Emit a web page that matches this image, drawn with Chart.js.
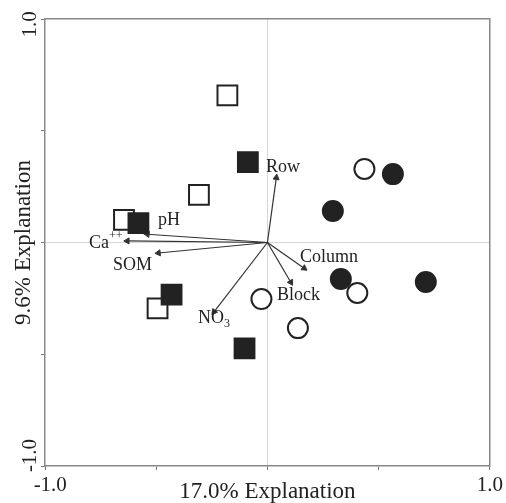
<!DOCTYPE html>
<html lang="en">
<head>
<meta charset="UTF-8">
<title>Ordination biplot</title>
<script src="https://cdn.jsdelivr.net/npm/chart.js"></script>
<style>
    html, body { margin: 0; padding: 0; background: #fff; }
    .chart-container { width: 506px; height: 503px; }
</style>
</head>
<body>
<div class="chart-container"><canvas id="biplot"></canvas></div>
<script>
// sample scores: axis 1 (x) and axis 2 (y)
const openSquareX = [-0.180, -0.308, -0.645, -0.494];
const openSquareY = [0.658, 0.213, 0.101, -0.295];
const filledSquareX = [-0.088, -0.580, -0.431, -0.103];
const filledSquareY = [0.360, 0.087, -0.233, -0.474];
const openCircleX = [0.436, -0.027, 0.404, 0.137];
const openCircleY = [0.329, -0.253, -0.226, -0.383];
const filledCircleX = [0.564, 0.294, 0.330, 0.712];
const filledCircleY = [0.306, 0.141, -0.163, -0.177];

// environmental vectors
const vectorNames = ['Row', 'pH', 'Ca', 'SOM', 'NO', 'Block', 'Column'];
const vectorSup = ['', '', '++', '', '', '', ''];
const vectorSub = ['', '', '', '', '3', '', ''];
const vectorX = [0.040, -0.540, -0.630, -0.490, -0.240, 0.105, 0.165];
const vectorY = [0.290, 0.037, 0.007, -0.047, -0.310, -0.178, -0.115];
// where each vector name sits (data units)
const labelX = [-0.007, -0.492, -0.802, -0.694, -0.312, 0.043, 0.146];
const labelY = [0.338, 0.100, -0.002, -0.100, -0.338, -0.235, -0.065];

// only the ends are labelled; spaces nudge them like the original
const xTickLabels = ['  -1.0', '', '', '', '1.0'];
const yTickLabels = ['    -1.0', '', '', '', '1.0  '];
const xTitle = '17.0% Explanation';
const yTitle = '9.6% Explanation';

const ink = '#222';
Chart.defaults.font.family = '"Liberation Serif", "DejaVu Serif", serif';

function pts(xs, ys) {
    return xs.map((x, i) => ({ x: x, y: ys[i] }));
}

const markerSets = [
    { data: pts(filledSquareX, filledSquareY), pointStyle: 'rect', pointRadius: 14, pointBackgroundColor: ink },
    { data: pts(openSquareX, openSquareY), pointStyle: 'rect', pointRadius: 14, pointBackgroundColor: '#fff' },
    { data: pts(openCircleX, openCircleY), pointStyle: 'circle', pointRadius: 10, pointBackgroundColor: '#fff' },
    { data: pts(filledCircleX, filledCircleY), pointStyle: 'circle', pointRadius: 10, pointBackgroundColor: ink }
].map(d => Object.assign(d, { pointBorderColor: ink, pointBorderWidth: 2, showLine: false }));

const vectorSets = vectorNames.map((name, i) => ({
    label: name,
    data: [{ x: 0, y: 0 }, { x: vectorX[i], y: vectorY[i] }],
    showLine: true,
    borderColor: '#333',
    borderWidth: 1.2,
    pointStyle: 'triangle',
    pointRadius: [0, 3.5],
    pointRotation: [0, Math.atan2(vectorX[i], vectorY[i]) * 180 / Math.PI],
    pointBackgroundColor: '#333',
    pointBorderColor: '#333',
    pointBorderWidth: 1
}));

const vectorLabels = {
    id: 'vectorLabels',
    afterDatasetsDraw(chart) {
        const ctx = chart.ctx;
        const sx = chart.scales.x, sy = chart.scales.y;
        ctx.save();
        ctx.fillStyle = ink;
        ctx.textBaseline = 'middle';
        ctx.textAlign = 'left';
        vectorNames.forEach((name, i) => {
            const px = sx.getPixelForValue(labelX[i]);
            const py = sy.getPixelForValue(labelY[i]);
            ctx.font = '18px "Liberation Serif", serif';
            ctx.fillText(name, px, py);
            const w = ctx.measureText(name).width;
            ctx.font = '12px "Liberation Serif", serif';
            if (vectorSup[i]) ctx.fillText(vectorSup[i], px + w, py - 7);
            if (vectorSub[i]) ctx.fillText(vectorSub[i], px + w, py + 6);
        });
        ctx.restore();
    }
};

const frameAxis = {
    min: -1, max: 1,
    ticks: { display: false },
    grid: { display: false, drawTicks: false },
    border: { color: '#888', width: 1.5 }
};

const ctx = document.getElementById('biplot').getContext('2d');
const chart = new Chart(ctx, {
    type: 'scatter',
    data: { datasets: markerSets.concat(vectorSets) },
    options: {
        responsive: true,
        maintainAspectRatio: false,
        animation: false,
        events: [],
        layout: { padding: { top: 19, right: 16, bottom: 0, left: 0 } },
        plugins: { legend: { display: false }, tooltip: { enabled: false } },
        scales: {
            x: {
                min: -1, max: 1,
                afterFit: s => { s.height = 37; },
                ticks: {
                    stepSize: 0.5, autoSkip: false, maxRotation: 0, padding: 3,
                    color: ink, font: { size: 21 },
                    callback: (v, i) => xTickLabels[i]
                },
                grid: {
                    color: c => (c.tick && c.tick.value === 0 ? '#d6d6d6' : 'rgba(0,0,0,0)'),
                    tickColor: '#777', tickLength: 4
                },
                border: { color: '#888', width: 1.5 },
                title: { display: true, text: xTitle, color: ink, font: { size: 23 }, padding: { top: 0, bottom: -3 } }
            },
            y: {
                min: -1, max: 1,
                afterFit: s => { s.width = 45; },
                ticks: {
                    stepSize: 0.5, autoSkip: false, minRotation: 90, maxRotation: 90,
                    crossAlign: 'center', padding: -16.5,
                    color: ink, font: { size: 21 },
                    callback: (v, i) => yTickLabels[i]
                },
                grid: {
                    color: c => (c.tick && c.tick.value === 0 ? '#d6d6d6' : 'rgba(0,0,0,0)'),
                    tickColor: '#777', tickLength: 4
                },
                border: { color: '#888', width: 1.5 },
                title: { display: true, text: yTitle, color: ink, font: { size: 23 }, padding: { top: 10.4, bottom: 0 } }
            },
            x2: Object.assign({ position: 'top' }, frameAxis),
            y2: Object.assign({ position: 'right' }, frameAxis)
        }
    },
    plugins: [vectorLabels]
});
</script>
</body>
</html>
